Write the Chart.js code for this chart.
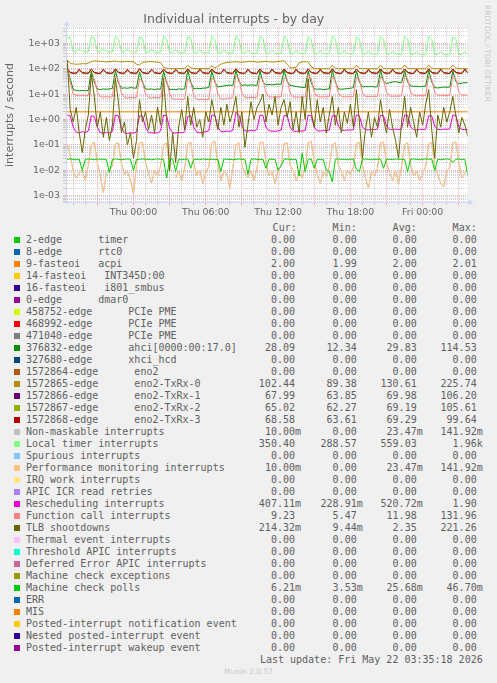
<!DOCTYPE html>
<html lang="en">
<head>
<meta charset="utf-8">
<title>Individual interrupts - by day</title>
<script src="https://cdn.jsdelivr.net/npm/chart.js@4.4.1/dist/chart.umd.min.js"></script>
<style>
  html, body { margin: 0; padding: 0; background: #f0f0f0; }
  #page { position: relative; width: 497px; height: 683px; overflow: hidden; font-family: "DejaVu Sans Mono", monospace; font-size: 10px; color: #606060; }
  #chart { position: absolute; left: 0; top: 0; }
  #rrdtool { position: absolute; left: 482px; top: 5px; width: 10px; writing-mode: vertical-rl; font-family: "DejaVu Sans", sans-serif; font-size: 7.5px; line-height: 10px; color: #c8c8c8; white-space: nowrap; }
  .row { position: absolute; left: 0; width: 497px; height: 12px; line-height: 12px; white-space: pre; }
  .swatch { position: absolute; left: 14px; top: 3px; width: 6px; height: 6px; }
  .label { position: absolute; left: 26px; }
  .num { position: absolute; top: 0; text-align: right; white-space: pre; }
  #munin { position: absolute; left: 0; width: 497px; top: 667px; text-align: center; font-family: "DejaVu Sans", sans-serif; font-size: 7.5px; line-height: 10px; color: #c8c8c8; }
</style>
</head>
<body>
<div id="page">
  <canvas id="chart" width="497" height="220"></canvas>
  <div id="rrdtool">RRDTOOL / TOBI OETIKER</div>
  <div id="legend"></div>
  <div id="munin">Munin 2.0.57</div>
</div>
<script>
// ============ DATA ============
// 15 minute samples, hours relative to Thu 00:00
const START_HOUR = -5.5;
const STEP_HOURS = 0.25;

const xTickHours = [0, 6, 12, 18, 24];
const xTickLabels = ["Thu 00:00", "Thu 06:00", "Thu 12:00", "Thu 18:00", "Fri 00:00"];
const yTickValues = [1e-3, 1e-2, 1e-1, 1, 1e1, 1e2, 1e3];
const yTickLabels = ["1e-03", "1e-02", "1e-01", "1e+00", "1e+01", "1e+02", "1e+03"];

const seriesNames = [
  "2-edge      timer", "8-edge      rtc0", "9-fasteoi   acpi", "14-fasteoi   INT345D:00",
  "16-fasteoi   i801_smbus", "0-edge      dmar0", "458752-edge      PCIe PME", "468992-edge      PCIe PME",
  "471040-edge      PCIe PME", "376832-edge      ahci[0000:00:17.0]", "327680-edge      xhci_hcd",
  "1572864-edge      eno2", "1572865-edge      eno2-TxRx-0", "1572866-edge      eno2-TxRx-1",
  "1572867-edge      eno2-TxRx-2", "1572868-edge      eno2-TxRx-3", "Non-maskable interrupts",
  "Local timer interrupts", "Spurious interrupts", "Performance monitoring interrupts", "IRQ work interrupts",
  "APIC ICR read retries", "Rescheduling interrupts", "Function call interrupts", "TLB shootdowns",
  "Thermal event interrupts", "Threshold APIC interrupts", "Deferred Error APIC interrupts",
  "Machine check exceptions", "Machine check polls", "ERR", "MIS", "Posted-interrupt notification event",
  "Nested posted-interrupt event", "Posted-interrupt wakeup event"
];
const seriesColors = [
  "#00CC00", "#0066B3", "#FF8000", "#FFCC00", "#330099", "#990099", "#CCFF00", "#FF0000",
  "#808080", "#008F00", "#00487D", "#B35A00", "#B38F00", "#6B006B", "#8FB300", "#B30000",
  "#BEBEBE", "#80FF80", "#80C9FF", "#FFC080", "#FFE680", "#AA80FF", "#EE00CC", "#FF8080",
  "#666600", "#FFBFFF", "#00FFCC", "#CC6699", "#999900", "#00CC00", "#0066B3", "#FF8000",
  "#FFCC00", "#330099", "#990099"
];

const curValues = [0, 0, 2.00, 0, 0, 0, 0, 0, 0, 28.09, 0, 0, 102.44, 67.99, 65.02, 68.58, 0.01, 350.40, 0, 0.01, 0, 0, 0.40711, 9.23, 0.21432, 0, 0, 0, 0, 0.00621, 0, 0, 0, 0, 0];
const minValues = [0, 0, 1.99, 0, 0, 0, 0, 0, 0, 12.34, 0, 0, 89.38, 63.85, 62.27, 63.61, 0, 288.57, 0, 0, 0, 0, 0.22891, 5.47, 0.00944, 0, 0, 0, 0, 0.00353, 0, 0, 0, 0, 0];
const avgValues = [0, 0, 2.00, 0, 0, 0, 0, 0, 0, 29.83, 0, 0, 130.61, 69.98, 69.19, 69.29, 0.02347, 559.03, 0, 0.02347, 0, 0, 0.52072, 11.98, 2.35, 0, 0, 0, 0, 0.02568, 0, 0, 0, 0, 0];
const maxValues = [0, 0, 2.01, 0, 0, 0, 0, 0, 0, 114.53, 0, 0, 225.74, 106.20, 105.61, 99.64, 0.14192, 1960, 0, 0.14192, 0, 0, 1.90, 131.96, 221.26, 0, 0, 0, 0, 0.04670, 0, 0, 0, 0, 0];

const zeroValues = [0, 0];
const acpiValues = [2.00, 2.00];

const localTimerValues = [
  1600, 1700, 470, 460, 600, 480, 455, 460,
  1800, 1600, 470, 455, 620, 470, 460, 455,
  1850, 1500, 460, 450, 600, 460, 450, 440,
  1750, 1600, 450, 440, 580, 450, 445, 440,
  1900, 1500, 440, 430, 560, 440, 430, 420,
  1800, 1600, 430, 420, 550, 430, 420, 410,
  1850, 1400, 420, 415, 560, 425, 415, 410,
  1960, 1500, 415, 410, 540, 420, 410, 400,
  1800, 1550, 410, 400, 530, 410, 400, 395,
  1850, 1500, 400, 390, 520, 400, 395, 390,
  1800, 1450, 395, 385, 510, 395, 385, 380,
  1850, 1500, 390, 380, 500, 390, 380, 375,
  1750, 1500, 385, 375, 500, 385, 375, 370,
  1800, 1450, 380, 370, 490, 380, 370, 365,
  1850, 1500, 375, 365, 480, 370, 365, 360,
  1800, 1450, 370, 360, 480, 365, 355, 350,
  1750, 1500, 365, 355, 470, 350.4
];

const txrx0Values = [
  225.74, 160, 155, 150, 152, 158, 155, 165,
  190, 205, 200, 195, 190, 185, 190, 195,
  200, 190, 185, 188, 192, 190, 185, 150,
  140, 175, 185, 190, 188, 185, 180, 175,
  112, 104, 102, 101, 103, 102, 101, 102,
  135, 110, 102, 101, 102, 101, 100, 101,
  130, 108, 125, 150, 165, 175, 180, 185,
  190, 182, 178, 185, 190, 195, 188, 180,
  185, 190, 195, 188, 182, 186, 192, 200,
  205, 150, 110, 108, 112, 170, 185, 190,
  185, 120, 102, 101, 100, 101, 100, 100,
  135, 105, 101, 100, 101, 100, 100, 101,
  138, 104, 101, 100, 100, 101, 100, 100,
  136, 105, 101, 100, 101, 100, 100, 100,
  140, 104, 100, 101, 100, 100, 101, 100,
  137, 105, 101, 100, 100, 101, 100, 100,
  138, 106, 101, 100, 101, 102.44
];

const txrx1Values = [
  97, 71, 66, 65, 94, 69, 66, 65,
  96, 70, 66, 65, 93, 69, 66, 65,
  97, 71, 66, 65, 92, 69, 66, 65,
  98, 70, 66, 65, 94, 69, 66, 65,
  95, 71, 66, 65, 93, 69, 66, 65,
  97, 70, 66, 65, 94, 69, 66, 65,
  96, 71, 66, 65, 92, 69, 66, 65,
  98, 70, 66, 65, 93, 69, 66, 65,
  97, 71, 66, 65, 94, 69, 66, 65,
  96, 70, 66, 65, 93, 69, 66, 65,
  97, 71, 66, 65, 92, 69, 66, 65,
  98, 70, 66, 65, 94, 69, 66, 65,
  95, 71, 66, 65, 93, 69, 66, 65,
  97, 70, 66, 65, 94, 69, 66, 65,
  96, 71, 66, 65, 92, 69, 66, 65,
  98, 70, 66, 65, 93, 69, 66, 65,
  97, 71, 66, 65, 94, 67.99
];

const txrx2Values = [
  96, 70, 65, 64, 93, 68, 65, 64,
  95, 69, 65, 64, 92, 68, 65, 64,
  96, 70, 65, 64, 91, 68, 65, 64,
  97, 69, 65, 64, 93, 68, 65, 64,
  94, 70, 65, 64, 92, 68, 65, 64,
  96, 69, 65, 64, 93, 68, 65, 64,
  95, 70, 65, 64, 91, 68, 65, 64,
  97, 69, 65, 64, 92, 68, 65, 64,
  96, 70, 65, 64, 93, 68, 65, 64,
  95, 69, 65, 64, 92, 68, 65, 64,
  96, 70, 65, 64, 91, 68, 65, 64,
  97, 69, 65, 64, 93, 68, 65, 64,
  94, 70, 65, 64, 92, 68, 65, 64,
  96, 69, 65, 64, 93, 68, 65, 64,
  95, 70, 65, 64, 91, 68, 65, 64,
  97, 69, 65, 64, 92, 68, 65, 64,
  96, 70, 65, 64, 93, 65.02
];

const txrx3Values = [
  99, 72, 67, 66, 95, 70, 67, 66,
  97, 71, 66, 65, 94, 70, 66, 66,
  98, 72, 67, 66, 93, 70, 67, 66,
  99, 71, 66, 65, 95, 70, 66, 65,
  96, 72, 67, 66, 94, 70, 67, 66,
  98, 71, 67, 66, 95, 70, 66, 66,
  97, 72, 66, 65, 93, 70, 67, 66,
  99.64, 71, 67, 66, 94, 70, 66, 65,
  98, 72, 67, 66, 95, 71, 67, 66,
  97, 71, 66, 65, 94, 70, 66, 66,
  98, 72, 67, 66, 93, 70, 67, 66,
  99, 71, 66, 65, 95, 70, 66, 65,
  96, 72, 67, 66, 94, 70, 67, 66,
  98, 71, 67, 66, 95, 70, 66, 66,
  97, 72, 66, 65, 93, 70, 67, 66,
  99, 71, 67, 66, 94, 70, 66, 65,
  98, 72, 67, 66, 95, 68.58
];

const ahciValues = [
  114.53, 40, 15, 14, 13.5, 14, 13.5, 14,
  80, 30, 16, 15, 16, 15.5, 16, 16.5,
  85, 28, 17, 17.5, 17, 18, 17.5, 17,
  75, 30, 16, 15.5, 16, 15, 16, 15.5,
  80, 28, 15, 15.5, 15, 16, 15.5, 16,
  85, 30, 16, 17, 16.5, 17, 17.5, 18,
  80, 30, 19, 20, 21, 22, 22.5, 22,
  85, 32, 22, 23, 22, 23, 22.5, 22,
  80, 30, 23, 24, 23, 24, 25, 24,
  85, 32, 22, 21, 20, 19, 18.5, 18,
  80, 28, 16, 15.5, 16, 15, 15.5, 16,
  85, 30, 16, 15.5, 16, 16.5, 17, 18,
  80, 30, 19, 20, 19.5, 20, 19, 19.5,
  85, 32, 26, 28, 30, 31, 29, 28,
  80, 30, 21, 20, 20.5, 19.5, 20, 20.5,
  85, 30, 18, 17.5, 18, 19, 18.5, 19,
  80, 32, 25, 27, 28, 28.09
];

const funcCallValues = [
  131.96, 30, 10, 9, 8.5, 9, 8.5, 9,
  45, 40, 12, 8, 7.5, 8, 7.5, 8,
  50, 35, 11, 7.5, 7, 7.5, 7, 7.5,
  40, 30, 10, 7.5, 7, 7.5, 7, 7.5,
  45, 35, 10, 6.5, 6.2, 6.5, 6, 6.5,
  40, 30, 9, 6.2, 6, 6.3, 6, 6.2,
  45, 35, 10, 6.5, 6.3, 6.8, 7, 7.2,
  55, 40, 11, 7.5, 7.2, 7.5, 7.3, 7.5,
  50, 35, 11, 7.8, 7.5, 7.8, 7.6, 8,
  45, 38, 11, 7.8, 7.5, 7.7, 7.5, 7.8,
  60, 40, 12, 8, 7.6, 7.9, 7.7, 8,
  50, 35, 11, 8, 7.7, 8, 7.8, 8.1,
  45, 38, 11, 8.2, 7.9, 8.2, 8, 8.3,
  50, 35, 12, 8.5, 8.2, 8.4, 8.3, 8.6,
  55, 40, 12, 9, 8.5, 8.8, 8.6, 9,
  50, 38, 12, 9, 8.7, 9, 8.8, 9.1,
  55, 40, 12, 9.2, 9, 9.23
];

const reschedValues = [
  1.5, 1.4, 0.5, 0.32, 0.3, 0.33, 0.31, 0.35,
  1.4, 1.3, 0.5, 0.3, 0.29, 0.31, 0.3, 0.34,
  1.5, 1.4, 0.45, 0.3, 0.28, 0.3, 0.29, 0.33,
  1.4, 1.35, 0.5, 0.31, 0.3, 0.29, 0.3, 0.35,
  1.5, 1.4, 0.45, 0.3, 0.29, 0.31, 0.3, 0.33,
  1.3, 1.4, 0.5, 0.32, 0.3, 0.31, 0.33, 0.36,
  1.5, 1.45, 0.5, 0.34, 0.33, 0.35, 0.34, 0.38,
  1.9, 1.5, 0.55, 0.36, 0.35, 0.37, 0.36, 0.4,
  1.5, 1.4, 0.5, 0.36, 0.35, 0.34, 0.36, 0.38,
  1.4, 1.5, 0.5, 0.35, 0.34, 0.36, 0.35, 0.37,
  1.5, 1.4, 0.5, 0.36, 0.35, 0.37, 0.36, 0.38,
  1.4, 1.45, 0.55, 0.38, 0.37, 0.39, 0.38, 0.4,
  1.5, 1.4, 0.5, 0.4, 0.39, 0.41, 0.4, 0.42,
  1.45, 1.4, 0.55, 0.41, 0.4, 0.42, 0.4, 0.43,
  1.5, 1.45, 0.5, 0.4, 0.39, 0.41, 0.4, 0.42,
  1.4, 1.4, 0.55, 0.41, 0.4, 0.42, 0.41, 0.43,
  1.5, 1.45, 0.5, 0.41, 0.4, 0.407
];

const tlbValues = [
  221.26, 2.5, 0.8, 3, 0.3, 0.05, 0.4, 1.5,
  60, 8, 0.5, 2, 0.2, 1.2, 0.15, 0.6,
  40, 5, 0.3, 0.8, 0.1, 0.3, 0.03, 0.15,
  6, 0.8, 2, 0.4, 1.5, 0.3, 3, 0.6,
  40, 1, 0.0094, 0.3, 0.02, 0.5, 2.5, 0.4,
  8, 0.6, 3, 0.5, 1, 0.2, 2, 0.8,
  6, 1.5, 0.4, 3, 0.6, 4, 0.8, 2,
  8, 0.5, 2, 0.08, 0.6, 5, 1, 3,
  5, 10, 0.8, 4, 1.5, 8, 0.6, 3,
  6, 1.2, 5, 0.4, 2, 0.3, 8, 1,
  40, 2, 0.5, 6, 0.8, 3, 0.3, 1.5,
  8, 0.6, 3, 0.3, 2, 0.7, 4, 0.5,
  15, 0.8, 0.03, 0.4, 2, 0.2, 1.2, 0.5,
  6, 1, 0.3, 2.5, 0.5, 0.15, 0.03, 0.8,
  8, 0.5, 3, 0.8, 0.2, 2, 0.6, 4,
  15, 0.4, 0.03, 1.5, 0.5, 3, 0.8, 2,
  8, 1.5, 0.3, 1.2, 0.6, 0.214
];

const perfValues = [
  0.11, 0.04, 0.009, 0.005, 0.008, 0.01, 0.004, 0.015,
  0.1, 0.13, 0.02, 0.006, 0.0013, 0.008, 0.01, 0.015,
  0.11, 0.12, 0.018, 0.007, 0.009, 0.004, 0.0012, 0.015,
  0.12, 0.13, 0.02, 0.008, 0.003, 0.01, 0.006, 0.015,
  0.1, 0.12, 0.015, 0, 0.005, 0.009, 0.004, 0.012,
  0.11, 0.13, 0.02, 0.006, 0.01, 0.003, 0.008, 0.014,
  0.12, 0.14, 0.018, 0.004, 0.009, 0.007, 0.002, 0.013,
  0.1, 0.12, 0.016, 0.008, 0.005, 0.01, 0.004, 0.012,
  0.12, 0.13, 0.02, 0.006, 0.009, 0.003, 0.01, 0.015,
  0.11, 0.12, 0.015, 0.01, 0.004, 0.008, 0.005, 0.013,
  0.12, 0.142, 0.02, 0.007, 0.003, 0.009, 0.006, 0.014,
  0.1, 0.12, 0.016, 0.009, 0.004, 0.01, 0.007, 0.013,
  0.11, 0.13, 0.018, 0.005, 0.002, 0.009, 0.006, 0.012,
  0.12, 0.13, 0.02, 0.008, 0.004, 0.01, 0.003, 0.015,
  0.1, 0.12, 0.017, 0.006, 0.009, 0.004, 0.008, 0.014,
  0.11, 0.13, 0.015, 0.007, 0.003, 0.0022, 0.009, 0.013,
  0.12, 0.13, 0.02, 0.005, 0.008, 0.01
];
// NMI counts follow the perf counter exactly (same cur/min/avg/max)
const nmiValues = perfValues;

const mcePollValues = [
  0.027, 0.028, 0.027, 0.026, 0.027, 0.01, 0.027, 0.028,
  0.027, 0.026, 0.028, 0.027, 0.027, 0.027, 0.008, 0.027,
  0.028, 0.027, 0.026, 0.027, 0.028, 0.027, 0.01, 0.027,
  0.027, 0.028, 0.027, 0.027, 0.026, 0.027, 0.028, 0.027,
  0.027, 0.005, 0.027, 0.028, 0.009, 0.027, 0.026, 0.027,
  0.028, 0.012, 0.027, 0.027, 0.026, 0.028, 0.027, 0.027,
  0.027, 0.026, 0.027, 0.009, 0.028, 0.027, 0.027, 0.026,
  0.027, 0.028, 0.027, 0.027, 0.007, 0.027, 0.028, 0.027,
  0.026, 0.027, 0.012, 0.028, 0.027, 0.027, 0.01, 0.015,
  0.027, 0.028, 0.027, 0.026, 0.027, 0.006, 0.0467, 0.009,
  0.027, 0.028, 0.012, 0.027, 0.026, 0.027, 0.01, 0.009,
  0.0035, 0.027, 0.028, 0.027, 0.027, 0.026, 0.027, 0.028,
  0.011, 0.009, 0.027, 0.028, 0.027, 0.026, 0.027, 0.027,
  0.028, 0.012, 0.027, 0.027, 0.026, 0.028, 0.027, 0.027,
  0.027, 0.009, 0.027, 0.028, 0.027, 0.026, 0.027, 0.028,
  0.027, 0.028, 0.01, 0.027, 0.026, 0.027, 0.028, 0.027,
  0.02, 0.027, 0.028, 0.026, 0.027, 0.0062
];

// one entry per legend row, in rrdtool drawing order
const seriesData = [
  zeroValues, zeroValues, acpiValues, zeroValues, zeroValues, zeroValues, zeroValues, zeroValues,
  zeroValues, ahciValues, zeroValues, zeroValues, txrx0Values, txrx1Values, txrx2Values, txrx3Values,
  nmiValues, localTimerValues, zeroValues, perfValues, zeroValues, zeroValues, reschedValues, funcCallValues,
  tlbValues, zeroValues, zeroValues, zeroValues, zeroValues, mcePollValues, zeroValues, zeroValues,
  zeroValues, zeroValues, zeroValues
];

const hours = localTimerValues.map((_, i) => START_HOUR + i * STEP_HOURS);

// ============ STYLE ============
const FONT_COLOR = "#666666";
const AXIS_COLOR = "#CFD6F8";
const MAJOR_GRID = "rgba(255, 80, 80, 0.45)";
const MINOR_GRID = "rgba(140, 140, 140, 0.4)";

// ============ UTILS ============
function toPoints(values) {
  if (values.length === hours.length) return values.map((v, i) => ({ x: hours[i], y: v }));
  return [{ x: hours[0], y: values[0] }, { x: hours[hours.length - 1], y: values[1] }];
}

function formatMunin(v) {
  if (v === 0) return "0.00 ";
  if (Math.abs(v) < 1) return (v * 1000).toFixed(2) + "m";
  if (Math.abs(v) >= 1000) return (v / 1000).toFixed(2) + "k";
  return v.toFixed(2) + " ";
}

function isDecade(v) {
  const l = Math.log10(v);
  return Math.abs(l - Math.round(l)) < 1e-9;
}

// ============ CHART ============
const canvasBg = {
  id: "canvasBg",
  beforeDraw(chart) {
    const { ctx, chartArea: a } = chart;
    ctx.save();
    ctx.fillStyle = "#ffffff";
    ctx.fillRect(a.left, a.top, a.right - a.left, a.bottom - a.top);
    ctx.restore();
  }
};

const axisArrows = {
  id: "axisArrows",
  afterDraw(chart) {
    const { ctx, chartArea: a } = chart;
    const x0 = Math.round(a.left) + 0.5;
    const y0 = Math.round(a.bottom) + 0.5;
    ctx.save();
    ctx.strokeStyle = AXIS_COLOR;
    ctx.fillStyle = AXIS_COLOR;
    ctx.lineWidth = 1;
    ctx.beginPath();
    ctx.moveTo(x0, a.bottom + 3); ctx.lineTo(x0, a.top - 2);
    ctx.moveTo(a.left - 3, y0); ctx.lineTo(a.right + 2, y0);
    ctx.stroke();
    ctx.beginPath();
    ctx.moveTo(x0, a.top - 7); ctx.lineTo(x0 - 3, a.top - 2); ctx.lineTo(x0 + 3, a.top - 2); ctx.closePath();
    ctx.moveTo(a.right + 6, y0); ctx.lineTo(a.right + 1, y0 - 3); ctx.lineTo(a.right + 1, y0 + 3); ctx.closePath();
    ctx.fill();
    ctx.restore();
  }
};

const datasets = seriesData.map((values, i) => ({
  label: seriesNames[i],
  data: toPoints(values),
  borderColor: seriesColors[i],
  backgroundColor: seriesColors[i],
  borderWidth: 1,
  pointRadius: 0,
  tension: 0,
  fill: false,
  order: seriesData.length - i
}));

new Chart(document.getElementById("chart"), {
  type: "line",
  data: { datasets },
  plugins: [canvasBg, axisArrows],
  options: {
    responsive: false,
    devicePixelRatio: 1,
    animation: false,
    events: [],
    layout: { padding: { left: 0, right: 29.5, top: 0, bottom: 0 } },
    plugins: {
      legend: { display: false },
      tooltip: { enabled: false },
      title: {
        display: true,
        text: "Individual interrupts - by day",
        color: FONT_COLOR,
        font: { family: "DejaVu Sans", size: 12.5, weight: "normal", lineHeight: 1.2 },
        padding: { top: 12, bottom: 1 }
      }
    },
    scales: {
      x: {
        type: "linear",
        min: -5.6,
        max: 27.72,
        bounds: "data",
        afterFit(scale) { scale.height = 18; },
        afterBuildTicks(scale) {
          const ticks = [];
          for (let h = Math.ceil(scale.min); h <= Math.floor(scale.max); h++) ticks.push({ value: h });
          scale.ticks = ticks;
        },
        ticks: {
          autoSkip: false,
          maxRotation: 0,
          padding: 1.5,
          color: FONT_COLOR,
          font: { family: "DejaVu Sans", size: 9.4 },
          callback(value) {
            const i = xTickHours.indexOf(value);
            return i >= 0 ? xTickLabels[i] : "";
          }
        },
        grid: {
          color: (ctx) => ctx.tick && (((ctx.tick.value % 3) + 3) % 3 === 0) ? MAJOR_GRID : MINOR_GRID,
          lineWidth: 1,
          tickLength: 3
        },
        border: { display: true, color: AXIS_COLOR, width: 1, dash: [1, 1] }
      },
      y: {
        type: "logarithmic",
        min: 5.65e-4,
        max: 4000,
        bounds: "data",
        afterFit(scale) { scale.width = 66; },
        afterBuildTicks(scale) {
          const ticks = [];
          for (let e = -4; e <= 3; e++) {
            for (let m = 1; m <= 9; m++) {
              const v = m * Math.pow(10, e);
              if (v >= scale.min && v <= scale.max) ticks.push({ value: v });
            }
          }
          scale.ticks = ticks;
        },
        ticks: {
          autoSkip: false,
          padding: 3,
          color: FONT_COLOR,
          font: { family: "DejaVu Sans", size: 9.4 },
          callback(value) {
            const i = yTickValues.findIndex(t => Math.abs(t - value) / t < 1e-6);
            return i >= 0 ? yTickLabels[i] : "";
          }
        },
        grid: {
          color: (ctx) => ctx.tick && isDecade(ctx.tick.value) ? MAJOR_GRID : MINOR_GRID,
          lineWidth: 1,
          tickLength: 3
        },
        border: { display: true, color: AXIS_COLOR, width: 1, dash: [1, 1] },
        title: {
          display: true,
          text: "interrupts / second",
          color: FONT_COLOR,
          font: { family: "DejaVu Sans", size: 11 },
          padding: { top: 4, bottom: 4 }
        }
      }
    }
  }
});

// ============ LEGEND ============
const NUM_EDGES = [301, 362.7, 422.7, 482.7];
const HEAD_EDGES = [296.7, 356.7, 416.7, 476.7];
const ROW_TOP = 234;
const ROW_H = 12;

function addText(parent, cls, text, right) {
  const s = document.createElement("span");
  s.className = cls;
  s.textContent = text;
  if (right !== undefined) s.style.right = (497 - right) + "px";
  parent.appendChild(s);
  return s;
}

function renderLegend() {
  const legend = document.getElementById("legend");

  const head = document.createElement("div");
  head.className = "row";
  head.style.top = (ROW_TOP - ROW_H) + "px";
  ["Cur:", "Min:", "Avg:", "Max:"].forEach((h, j) => addText(head, "num", h, HEAD_EDGES[j]));
  legend.appendChild(head);

  seriesNames.forEach((name, i) => {
    const row = document.createElement("div");
    row.className = "row";
    row.style.top = (ROW_TOP + i * ROW_H) + "px";
    const sw = document.createElement("span");
    sw.className = "swatch";
    sw.style.background = seriesColors[i];
    row.appendChild(sw);
    addText(row, "label", name);
    [curValues[i], minValues[i], avgValues[i], maxValues[i]].forEach((v, j) => addText(row, "num", formatMunin(v), NUM_EDGES[j]));
    legend.appendChild(row);
  });

  const upd = document.createElement("div");
  upd.className = "row";
  upd.style.top = (ROW_TOP + seriesNames.length * ROW_H) + "px";
  addText(upd, "num", "Last update: Fri May 22 03:35:18 2026", 482.7);
  legend.appendChild(upd);
}

renderLegend();
</script>
</body>
</html>
